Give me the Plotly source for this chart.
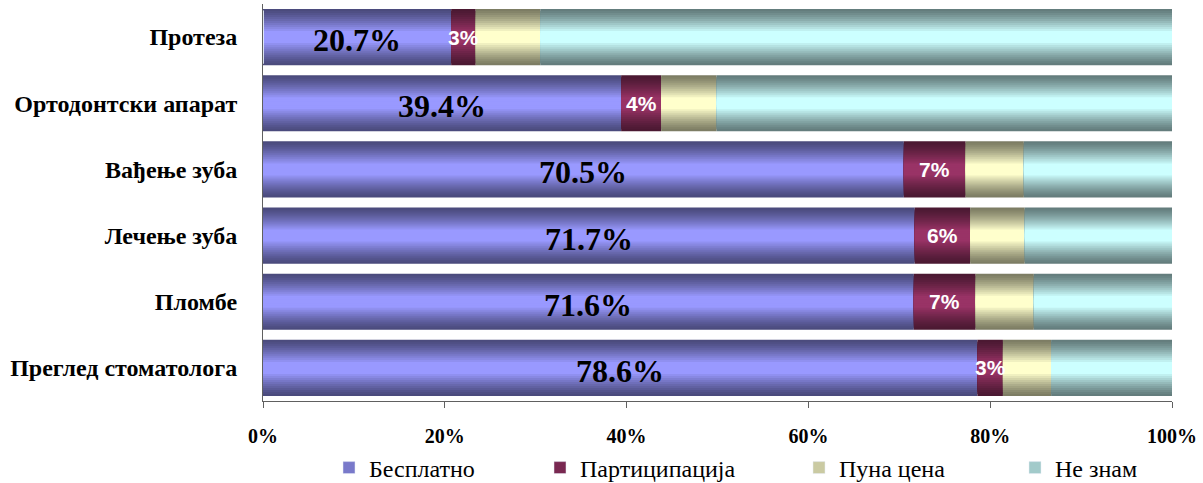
import plotly.graph_objects as go

# Dental services: share of respondents by payment type (percent)
categories = ["Протеза", "Ортодонтски апарат", "Вађење зуба",
              "Лечење зуба", "Пломбе", "Преглед стоматолога"]
free = [20.7, 39.4, 70.5, 71.7, 71.6, 78.6]
copay = [2.7, 4.4, 6.8, 6.1, 6.8, 2.8]
full_price = [7.1, 6.1, 6.4, 6.0, 6.4, 5.3]
dont_know = [69.5, 50.1, 16.3, 16.2, 15.2, 13.3]

series_names = ["Бесплатно", "Партиципација", "Пуна цена", "Не знам"]
series_values = [free, copay, full_price, dont_know]
series_colors = [(0x99, 0x99, 0xFF), (0x99, 0x33, 0x66),
                 (0xFF, 0xFF, 0xCC), (0xCC, 0xFF, 0xFF)]

tick_vals = [0, 20, 40, 60, 80, 100]
tick_text = ["0%", "20%", "40%", "60%", "80%", "100%"]

BAR_W = 0.85
N_LAYERS = 14
SERIF = "Liberation Serif, Times New Roman, serif"
SANS = "Liberation Sans, Arial, sans-serif"


def shade(rgb, t):
    """Blend from a dark edge tone (t=0) to the full colour (t=1)."""
    r, g, b = (c * (0.48 + 0.52 * t) for c in rgb)
    return f"rgb({r:.0f},{g:.0f},{b:.0f})"


def brightness(d):
    """Cylinder-like shading profile; d is distance from bar centre (0..1)."""
    t = max(0.0, min(1.0, (1 - d) / 0.82))
    return t ** 1.3


fig = go.Figure()

# cumulative starting point of each segment
bases = []
running = [0.0] * len(categories)
for vals in series_values:
    bases.append(list(running))
    running = [r + v for r, v in zip(running, vals)]

legend_ids = ["legend", "legend2", "legend3", "legend4"]

for s, (name, vals, rgb) in enumerate(zip(series_names, series_values, series_colors)):
    # stacked layers of decreasing thickness give a vertical gradient
    for k in range(N_LAYERS):
        f_out = 1 - k / N_LAYERS
        f_in = 1 - (k + 1) / N_LAYERS
        d = (f_out + f_in) / 2
        fig.add_trace(go.Bar(
            y=categories, x=vals, base=bases[s], orientation="h",
            width=BAR_W * f_out,
            marker=dict(color=shade(rgb, brightness(d)), line=dict(width=0)),
            name=name, showlegend=False, hoverinfo="skip",
        ))
    # legend entry
    fig.add_trace(go.Bar(
        y=[categories[0]], x=[0], base=[0], orientation="h",
        marker=dict(color=shade(rgb, 0.6)), name=name,
        legend=legend_ids[s], showlegend=True, hoverinfo="skip",
    ))

# value labels for the first two series, centred on their segments
for cat, b, v in zip(categories, bases[0], free):
    fig.add_annotation(
        x=b + v / 2, y=cat, xref="x", yref="y", text=f"{v:.1f}%",
        showarrow=False, yshift=-3,
        font=dict(family=SERIF, size=32, color="black", weight="bold"),
    )
for cat, b, v in zip(categories, bases[1], copay):
    fig.add_annotation(
        x=b + v / 2, y=cat, xref="x", yref="y", text=f"{v:.0f}%",
        showarrow=False,
        font=dict(family=SANS, size=21, color="white", weight="bold"),
    )

legend_text_x = [369, 580, 839, 1055]
legend_common = dict(
    orientation="h", xref="container", yref="container",
    xanchor="left", yanchor="middle", y=1 - 468 / 483,
    font=dict(family=SERIF, size=24, color="black"),
    bgcolor="rgba(0,0,0,0)", borderwidth=0,
)
legend_layout = {}
for lid, tx in zip(legend_ids, legend_text_x):
    legend_layout[lid] = dict(legend_common, x=(tx - 40) / 1203)

fig.update_layout(
    width=1203, height=483,
    margin=dict(l=263, r=31, t=4, b=82, autoexpand=False),
    barmode="overlay",
    plot_bgcolor="white", paper_bgcolor="white",
    xaxis=dict(
        range=[0, 100], tickvals=tick_vals, ticktext=tick_text,
        showgrid=False, zeroline=False, automargin=False,
        showline=True, linecolor="#606060", linewidth=1,
        ticks="outside", ticklen=6, tickcolor="#606060",
        ticklabelstandoff=11,
        tickfont=dict(family=SERIF, size=20, color="black", weight="bold"),
    ),
    yaxis=dict(
        type="category", categoryorder="array", categoryarray=categories,
        range=[5.5, -0.5], automargin=False,
        showgrid=False, zeroline=False,
        showline=True, linecolor="#606060", linewidth=1,
        ticks="", ticklabelstandoff=20,
        tickfont=dict(family=SERIF, size=24, color="black", weight="bold"),
    ),
    **legend_layout,
)

fig.write_html("out.html")
